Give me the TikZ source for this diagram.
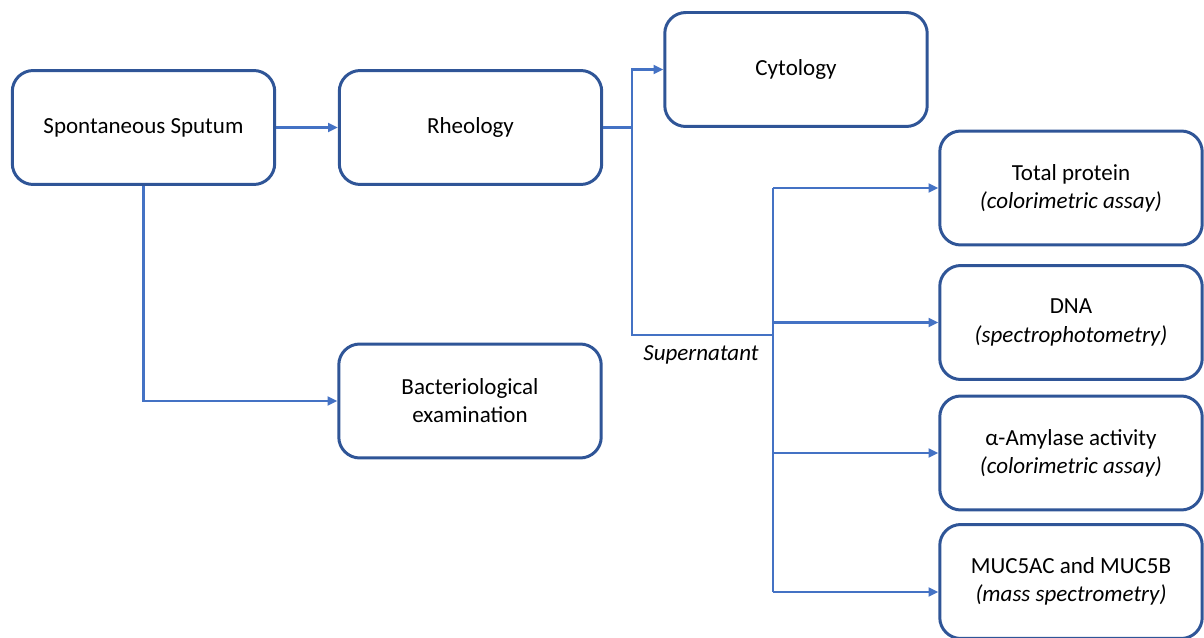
\documentclass[tikz,border=0pt]{standalone}
\usepackage{fontspec}
\setmainfont{Carlito}
\usepackage{tikz}
\usetikzlibrary{arrows.meta,positioning,calc}

\definecolor{boxblue}{HTML}{2F5597}
\definecolor{lineblue}{HTML}{4472C4}

\begin{document}
\begin{tikzpicture}[
    x=0.02cm, y=-0.02cm,
    box/.style={draw=boxblue, line width=1.7pt, rounded corners=0.42cm, minimum width=5.25cm, minimum height=2.28cm, align=center, font=\fontsize{13.1}{16}\selectfont, inner sep=2pt},
    arr/.style={-{Triangle[length=5.5pt,width=5pt]}, draw=lineblue, line width=1.4pt},
    lnk/.style={draw=lineblue, line width=1.4pt},
    lbl/.style={font=\fontsize{13.1}{16}\selectfont\itshape, inner sep=0pt}
]
\useasboundingbox (0,0) rectangle (1204,638);

\node[box] (sput) at (143.5,127.5) {Spontaneous Sputum};
\node[box] (rheo) at (470.5,127.5) {Rheology};
\node[box] (cyto) at (796,69.5) {Cytology};
\node[box] (bact) at (470,401) {Bacteriological\\examination};
\node[box] (prot) at (1071,188) {Total protein\\\textit{(colorimetric assay)}};
\node[box] (dna) at (1071,322.5) {DNA\\\textit{(spectrophotometry)}};
\node[box] (amy) at (1071,453) {α-Amylase activity\\\textit{(colorimetric assay)}};
\node[box] (muc) at (1071,581.5) {MUC5AC and MUC5B\\\textit{(mass spectrometry)}};

\coordinate (split) at (632,127.5);
\coordinate (sup) at (773,335);
\coordinate (mucin) at (773,592);
\node[lbl] (suplbl) at (701,355) {Supernatant};

% left part
\draw[arr] (sput) -- (rheo);
\draw[arr] (sput.south) |- (bact.west);

% rheology to cytology and supernatant
\draw[lnk] (rheo.east) -- (split);
\draw[arr] (split) |- (cyto.west);
\draw[lnk] (split) |- (sup);

% supernatant analyses
\draw[lnk] (sup |- prot.west) -- (mucin);
\draw[arr] (sup |- prot.west) -- (prot.west);
\draw[arr] (sup |- dna.west) -- (dna.west);
\draw[arr] (sup |- amy.west) -- (amy.west);
\draw[arr] (mucin) -- (mucin -| muc.west);
\end{tikzpicture}
\end{document}
